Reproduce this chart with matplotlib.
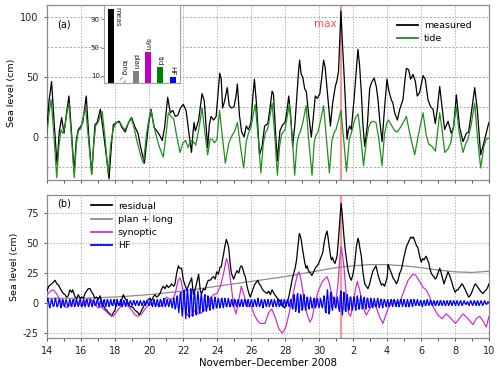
import numpy as np
import matplotlib
matplotlib.use("Agg")
import matplotlib.pyplot as plt
from matplotlib.ticker import FixedLocator
import datetime as dt

plt.rcParams['font.family'] = ['DejaVu Sans']
plt.rcParams['axes.unicode_minus'] = False

START = dt.date(2008, 11, 14)
N_DAYS = 26
MAX_DAY = 17.28

# ---------------- panel (a) data: time in days since 14 Nov 2008 ----------------
tide_t = [0.00,0.12,0.24,0.40,0.57,0.70,0.82,0.93,1.05,1.17,1.29,1.45,1.60,1.73,1.84,2.00,
          2.12,2.27,2.45,2.63,2.75,2.86,3.00,3.12,3.25,3.42,3.60,3.75,3.90,4.10,4.30,4.45,
          4.60,4.80,4.94,5.10,5.30,5.50,5.67,5.86,6.10,6.25,6.40,6.60,6.84,7.00,7.14,7.30,
          7.45,7.60,7.82,8.00,8.15,8.30,8.45,8.60,8.75,8.95,9.12,9.30,9.45,9.60,9.72,9.85,
          10.00,10.15,10.30,10.49,10.70,10.88,11.05,11.20,11.40,11.57,11.72,11.85,12.00,12.12,
          12.25,12.42,12.58,12.72,12.84,12.99,13.12,13.24,13.39,13.55,13.68,13.80,13.90,14.00,
          14.12,14.25,14.41,14.57,14.70,14.80,14.90,15.05,15.24,15.39,15.59,15.72,15.82,15.94,
          16.10,16.27,16.41,16.61,16.76,16.90,17.00,17.15,17.29,17.45,17.62,17.78,17.90,18.04,
          18.15,18.30,18.42,18.62,18.80,18.92,19.05,19.20,19.35,19.50,19.71,19.85,20.00,20.08,
          20.25,20.45,20.60,20.80,21.00,21.14,21.35,21.63,21.85,22.12,22.30,22.45,22.65,22.85,
          23.10,23.25,23.40,23.60,23.75,23.90,24.08,24.25,24.47,24.62,24.76,24.95,25.16,25.32,
          25.51,25.70,25.84,26.00]
tide_v = [2,20,31,3,-34,-8,6,3,8,20,28,-2,-34,-6,5,7,
          16,24,-4,-31,-6,9,12,17,21,-2,-31,-6,7,12,12,8,
          6,12,16,9,-4,-15,-22,3,23,12,2,-8,-17,2,20,17,
          15,3,-13,-5,-3,-9,-3,-4,-7,8,24,2,-15,-2,-2,-5,
          -2,22,2,-22,-5,1,5,12,-10,-26,-4,3,8,18,
          27,0,-30,-6,3,7,18,28,3,-32,-8,2,4,6,
          16,27,3,-32,-6,1,4,12,26,-2,-32,-4,1,4,
          14,26,3,-30,-3,4,6,14,22,-2,-29,-2,3,11,
          16,19,5,-24,-2,8,12,13,12,0,-24,2,12,14,
          10,5,4,8,13,17,2,-15,2,20,2,-6,-8,-12,
          20,5,-13,-10,-5,8,25,3,-13,-6,-2,10,28,0,
          -26,-8,-2,-1]

meas_t = [0.00,0.12,0.27,0.42,0.59,0.72,0.86,1.00,1.15,1.29,1.45,1.60,1.72,1.84,2.00,2.10,
          2.31,2.45,2.63,2.75,2.82,2.95,3.14,3.37,3.65,3.80,3.90,4.00,4.10,4.25,4.40,4.60,
          4.80,4.98,5.15,5.35,5.50,5.73,5.96,6.12,6.30,6.45,6.60,6.78,6.92,7.10,7.25,7.40,
          7.55,7.70,7.85,8.02,8.18,8.35,8.50,8.58,8.65,8.72,8.80,8.92,9.12,9.25,9.45,9.55,
          9.65,9.80,9.95,10.08,10.16,10.25,10.33,10.45,10.60,10.72,10.85,11.00,11.12,11.20,
          11.32,11.45,11.60,11.72,11.85,12.00,12.10,12.20,12.32,12.50,12.65,12.80,12.99,13.10,
          13.24,13.32,13.45,13.55,13.70,13.86,14.00,14.10,14.22,14.33,14.45,14.58,14.70,14.80,
          14.86,14.95,15.04,15.16,15.25,15.38,15.55,15.65,15.78,15.90,16.05,16.15,16.27,16.36,
          16.50,16.67,16.80,16.96,17.06,17.15,17.22,17.29,17.37,17.45,17.55,17.65,17.72,17.80,
          17.90,18.06,18.20,18.29,18.39,18.49,18.59,18.69,18.84,18.98,19.08,19.24,19.37,19.47,
          19.57,19.71,19.86,20.00,20.10,20.25,20.35,20.45,20.61,20.75,20.94,21.04,21.14,21.27,
          21.39,21.53,21.67,21.78,21.92,22.12,22.25,22.41,22.57,22.71,22.84,22.96,23.10,23.24,
          23.39,23.59,23.78,23.92,24.08,24.27,24.47,24.67,24.80,24.96,25.16,25.31,25.51,25.75,
          25.94,26.00]
meas_v = [8,30,46,12,-23,4,16,3,20,34,2,-30,-3,6,9,12,
          34,2,-31,-5,10,12,23,-2,-35,-5,10,11,12,13,8,4,
          12,16,9,3,-8,-22,9,23,8,5,2,-3,8,33,20,22,
          17,18,24,27,22,3,-13,2,12,5,8,14,36,30,-9,10,
          17,14,17,40,53,48,24,30,41,26,24,25,34,44,
          18,4,0,9,6,12,32,48,28,-15,-8,9,11,22,
          38,36,2,-20,5,10,12,20,34,18,-8,10,35,55,
          64,52,50,40,38,20,0,14,34,32,36,48,64,58,
          36,9,28,42,47,55,80,105,80,59,30,-2,5,9,
          6,31,56,73,59,37,9,-8,9,40,45,49,42,31,
          14,-4,25,48,39,31,28,20,14,23,31,45,57,56,
          48,52,46,34,37,51,48,31,25,23,11,23,42,25,
          6,13,3,8,35,8,-4,3,4,20,41,23,-15,-2,
          9,12]

# ---------------- panel (b) data ----------------
resid_t = [0.00,0.10,0.20,0.35,0.47,0.58,0.67,0.78,0.86,0.96,1.06,1.15,1.25,1.35,1.45,1.51,
           1.58,1.65,1.75,1.84,1.95,2.04,2.14,2.24,2.33,2.43,2.53,2.63,2.73,2.82,2.92,3.02,
           3.12,3.22,3.35,3.43,3.51,3.61,3.71,3.80,3.90,4.00,4.07,4.14,4.22,4.29,4.40,4.49,
           4.58,4.69,4.79,4.88,4.98,5.08,5.17,5.27,5.35,5.43,5.50,5.57,5.64,5.71,5.80,5.86,
           5.96,6.06,6.15,6.25,6.35,6.45,6.55,6.65,6.75,6.84,6.94,7.04,7.14,7.24,7.32,7.39,
           7.46,7.53,7.63,7.73,7.80,7.92,8.02,8.12,8.22,8.31,8.42,8.51,8.61,8.71,8.82,8.92,
           9.02,9.10,9.20,9.30,9.40,9.49,9.61,9.70,9.80,9.90,9.98,10.08,10.18,10.25,10.32,10.39,
           10.47,10.55,10.62,10.69,10.76,10.84,10.92,10.98,11.08,11.18,11.28,11.37,11.45,11.51,11.60,11.67,
           11.75,11.82,11.90,11.96,12.05,12.10,12.20,12.30,12.41,12.48,12.55,12.65,12.75,12.85,12.94,13.04,
           13.14,13.24,13.35,13.45,13.55,13.63,13.72,13.82,13.90,13.98,14.08,14.15,14.22,14.32,14.41,14.50,
           14.61,14.68,14.76,14.84,14.90,14.96,15.03,15.10,15.17,15.24,15.30,15.38,15.49,15.58,15.69,15.75,
           15.82,15.90,15.98,16.06,16.14,16.22,16.30,16.40,16.47,16.53,16.60,16.67,16.73,16.80,16.86,16.94,
           17.00,17.06,17.13,17.19,17.24,17.30,17.36,17.41,17.47,17.53,17.61,17.71,17.80,17.90,17.98,18.05,
           18.10,18.20,18.29,18.35,18.39,18.49,18.55,18.59,18.69,18.78,18.88,18.98,19.08,19.18,19.27,19.35,
           19.43,19.50,19.57,19.67,19.76,19.86,19.94,20.02,20.06,20.12,20.20,20.28,20.35,20.45,20.55,20.65,
           20.75,20.82,20.88,20.96,21.04,21.14,21.24,21.33,21.40,21.47,21.55,21.63,21.73,21.82,21.92,22.02,
           22.10,22.18,22.25,22.31,22.38,22.45,22.52,22.60,22.68,22.76,22.83,22.90,23.00,23.10,23.17,23.24,
           23.30,23.35,23.42,23.49,23.59,23.68,23.78,23.88,23.95,24.02,24.10,24.18,24.25,24.33,24.40,24.47,
           24.57,24.67,24.74,24.80,24.88,24.96,25.04,25.12,25.20,25.25,25.35,25.45,25.55,25.65,25.75,25.84,
           25.92,26.00]
resid_v = [10,14,15,17,19,16,15,12,10,8,7,5,6,11,9,11,
           8,5,4,7,4,5,4,8,10,12,12,9,7,4,5,3,
           6,1,-3,-5,-6,-8,-9,-11,-8,-6,-2,0,-1,-2,3,7,
           4,2,-1,-3,-3,-4,-6,-7,-8,-10,-8,-6,-4,-2,0,1,
           3,4,2,5,7,5,6,8,12,14,12,15,13,14,16,15,
           14,16,25,31,29,29,19,15,11,14,18,21,7,11,18,24,
           10,8,12,11,16,19,19,21,22,20,26,24,30,30,36,41,
           48,53,50,46,35,25,22,20,24,27,25,30,31,29,24,22,
           15,11,7,5,9,11,15,17,19,16,15,12,10,9,8,10,
           7,11,8,6,4,3,1,-2,-3,-4,0,2,5,12,19,24,
           30,36,47,58,56,52,45,39,33,29,31,27,25,23,26,28,
           30,31,33,36,39,42,50,57,60,55,47,40,36,38,35,33,
           36,39,50,62,72,83,75,66,55,46,37,27,22,19,23,28,
           33,47,54,51,47,39,31,25,16,14,12,16,22,27,29,31,
           26,22,19,15,16,14,18,22,32,30,27,24,21,19,16,19,
           25,27,30,36,41,47,50,53,55,54,55,52,48,46,39,34,
           37,36,38,39,36,34,29,25,23,22,20,21,25,29,26,22,
           19,16,19,22,26,23,19,14,11,9,11,11,13,14,16,15,
           12,9,7,5,6,8,11,14,16,15,13,11,9,8,10,11,
           13,16]

syn_t = [0.00,0.20,0.37,0.55,0.75,0.96,1.16,1.40,1.65,1.85,2.04,2.20,2.33,2.53,2.75,3.00,
         3.20,3.41,3.70,3.90,4.10,4.39,4.59,4.88,5.18,5.37,5.57,5.76,5.96,6.25,6.45,6.65,
         6.85,7.04,7.25,7.43,7.55,7.63,7.72,7.82,7.90,7.96,8.05,8.22,8.35,8.50,8.70,8.92,
         9.10,9.41,9.61,9.80,10.00,10.20,10.39,10.55,10.62,10.69,10.84,10.98,11.12,11.25,11.43,11.60,
         11.80,12.00,12.20,12.40,12.55,12.82,13.04,13.22,13.43,13.65,13.85,14.05,14.25,14.41,14.60,14.76,
         14.84,14.96,15.10,15.29,15.47,15.60,15.80,15.98,16.20,16.47,16.60,16.75,16.90,17.00,17.12,17.22,
         17.31,17.40,17.47,17.61,17.75,17.86,18.00,18.14,18.25,18.39,18.59,18.78,18.98,19.18,19.35,19.55,
         19.76,19.95,20.16,20.35,20.55,20.75,21.00,21.24,21.53,21.70,21.92,22.12,22.31,22.51,22.71,23.00,
         23.24,23.49,23.78,24.02,24.25,24.47,24.70,25.06,25.25,25.45,25.65,25.84,26.00]
syn_v = [7,10,11,8,3,-2,-4,-1,3,0,-3,0,3,4,0,-4,
         -3,-6,-10,-11,-7,-2,0,-4,-10,-11,-9,-5,-2,0,-1,-3,
         1,5,3,4,8,14,19,21,18,13,3,-9,-11,-10,-6,-9,
         -8,-4,4,7,8,14,25,37,35,30,14,-2,-9,0,14,6,
         -3,-2,-10,-15,-17,-17,-8,-5,-12,-22,-25,-20,-8,3,16,25,
         26,18,5,-9,-16,-12,2,11,18,22,17,7,-1,3,16,37,
         47,38,30,5,-9,-11,0,11,18,11,-3,-10,-5,0,-3,-11,
         -17,-9,0,2,-1,1,10,19,24,23,18,13,11,5,-3,-10,
         -13,-9,-13,-17,-13,-9,-12,-18,-13,-11,-15,-20,-11]

plan_t = list(range(0, 27))
plan_v = [4,4,4,4.5,5,6,7,8.5,10,12,14,16,18,20,22,24.5,27,29.5,31,32,32,31,29.5,27.5,26,25.5,26.5]

# HF component, hourly values, one row per day
hf_rows = [
 [1,4,2,-2,-4,-1,3,3,-1,-3,-2,2,4,1,-3,-3,0,3,2,-2,-4,0,3,2],
 [-2,-3,1,3,1,-2,-3,0,3,2,-2,-3,1,3,0,-3,-2,2,3,-1,-3,-1,2,3],
 [0,-3,-2,2,3,-1,-3,0,3,2,-2,-3,0,3,1,-2,-3,1,3,1,-2,-2,1,3],
 [1,-2,-3,1,3,0,-3,-1,2,3,-1,-3,0,3,2,-2,-3,1,3,0,-2,-2,2,3],
 [-1,-3,0,3,1,-2,-2,1,3,0,-3,-1,2,2,-1,-3,0,3,1,-2,-2,1,2,0],
 [-2,-1,2,2,-1,-2,0,2,1,-2,-2,1,2,0,-2,-1,1,2,0,-2,-1,2,2,-1],
 [-2,0,3,1,-2,-3,1,3,0,-3,-2,2,3,-1,-3,0,3,2,-2,-3,1,4,0,-3],
 [-2,2,3,-1,-3,0,3,2,-2,-4,1,4,0,-5,-3,4,6,-2,-8,-2,8,9,-4,-11],
 [-3,10,11,-4,-13,-2,12,8,-7,-12,1,12,6,-9,-11,2,11,5,-9,-10,3,10,3,-8],
 [-8,3,9,1,-7,-6,4,7,-2,-7,-2,6,5,-3,-6,0,5,3,-4,-5,1,5,2,-4],
 [-4,2,4,0,-4,-2,3,4,-1,-4,0,4,2,-3,-3,1,4,1,-3,-3,2,3,-1,-3],
 [-1,3,2,-2,-3,1,3,0,-3,-2,2,3,-1,-3,0,3,2,-2,-3,1,3,0,-3,-1],
 [2,3,-1,-3,0,3,2,-2,-3,1,4,0,-3,-2,2,3,-1,-4,0,3,2,-2,-3,1],
 [3,0,-3,-1,2,3,-1,-3,0,3,1,-2,-3,1,3,0,-3,-2,2,3,-1,-3,0,3],
 [1,-3,-2,2,3,-1,-3,0,3,2,-4,-5,3,7,0,-7,-4,6,8,-3,-8,-1,7,5],
 [-6,-5,4,7,-1,-6,-2,5,4,-3,-5,1,5,2,-4,-4,2,4,0,-4,-2,3,4,-1],
 [-4,-1,4,2,-3,-4,1,6,3,-7,-8,5,11,2,-9,-7,6,9,-3,-6,0,5,2,-4],
 [-4,2,5,0,-5,-7,6,10,-3,-10,-4,9,8,-6,-7,3,7,0,-6,-3,5,5,-2,-6],
 [-2,5,5,-3,-6,0,6,3,-5,-5,2,6,1,-5,-4,3,5,-1,-5,-2,4,4,-2,-4],
 [-1,4,3,-3,-4,1,4,1,-3,-3,2,4,0,-4,-2,3,3,-1,-4,0,3,2,-2,-3],
 [1,3,0,-3,-2,2,3,-1,-3,0,3,2,-2,-3,1,3,0,-3,-1,2,3,-1,-3,0],
 [3,1,-2,-3,1,3,0,-3,-1,2,3,-1,-3,0,3,2,-2,-2,1,3,0,-2,-2,2],
 [2,-1,-3,0,2,2,-2,-2,1,3,0,-2,-1,2,2,-1,-2,0,2,1,-2,-2,1,2],
 [0,-2,-1,2,2,-1,-2,0,2,1,-2,-2,1,2,0,-2,-1,2,2,-1,-2,0,2,1],
 [-1,-2,1,2,0,-2,-1,1,2,0,-2,-1,1,2,0,-1,-1,1,1,-1,-2,0,2,1],
 [-1,-2,0,2,1,-1,-2,1,2,0,-2,-1,1,2,0,-2,-1,1,2,0,-1,-1,1,1],
]
hf_end = [0]

# inset bar chart (cm)
bar_labels = ['meas', 'long', 'plan', 'syn', 'tid', 'HF']
bar_values = [104.5, 9, 17.5, 44, 22.5, 8.5]
bar_colors = ['black', '#c8c8c8', '#808080', '#c000c0', '#008000', '#0000ff']

# ---------------- styling ----------------
C_TIDE = '#1f8f1f'
C_SYN = '#d030d0'
C_HF = '#0000ff'
C_PLAN = '#8c8c8c'
C_MAX = '#f59a9a'
SPINE = '#8a8a8a'

fig = plt.figure(figsize=(5.0, 3.75), dpi=100)
ax1 = fig.add_axes([0.094, 0.52, 0.884, 0.467])
ax2 = fig.add_axes([0.094, 0.099, 0.884, 0.381])

hf_vals = [v for row in hf_rows for v in row] + hf_end
hf_t = np.arange(len(hf_vals)) / 24.0

# panel a
ax1.axvline(MAX_DAY, color=C_MAX, lw=1.6, zorder=1)
ax1.plot(meas_t, meas_v, color='black', lw=0.9, label='measured', zorder=3)
ax1.plot(tide_t, tide_v, color=C_TIDE, lw=0.9, label='tide', zorder=4)
ax1.set_ylim(-36, 110)
ax1.set_yticks([0, 50, 100])
ax1.yaxis.set_minor_locator(FixedLocator([-25, 25, 75]))
ax1.text(MAX_DAY - 0.25, 94, 'max', color='#ff3030', alpha=0.85, fontsize=7.5,
         ha='right', va='center')
ax1.text(0.022, 0.89, '(a)', transform=ax1.transAxes, fontsize=7, va='center')
leg1 = ax1.legend(loc='upper right', bbox_to_anchor=(0.975, 0.945), frameon=False,
                  fontsize=6.8, handlelength=2.2, handletextpad=0.6, borderaxespad=0.3,
                  labelspacing=0.45)

# panel b
ax2.axvline(MAX_DAY, color=C_MAX, lw=1.6, zorder=1)
ax2.plot(resid_t, resid_v, color='black', lw=0.9, label='residual', zorder=3)
ax2.plot(plan_t, plan_v, color=C_PLAN, lw=0.9, label='plan + long', zorder=2)
ax2.plot(syn_t, syn_v, color=C_SYN, lw=0.9, label='synoptic', zorder=4)
ax2.plot(hf_t, hf_vals, color=C_HF, lw=0.9, label='HF', zorder=5)
ax2.set_ylim(-29, 90)
ax2.set_yticks([-25, 0, 25, 50, 75])
ax2.text(0.022, 0.94, '(b)', transform=ax2.transAxes, fontsize=7, va='center')
leg2 = ax2.legend(loc='upper left', bbox_to_anchor=(0.085, 1.0), frameon=False,
                  fontsize=6.8, handlelength=2.2, handletextpad=0.6, borderaxespad=0.3,
                  labelspacing=0.45)
for h in leg1.get_lines() + leg2.get_lines():
    h.set_linewidth(1.3)

xt = list(range(0, N_DAYS + 1, 2))
xlabels = [str((START + dt.timedelta(days=k)).day) for k in xt]
for ax in (ax1, ax2):
    ax.set_xlim(0, N_DAYS)
    ax.set_xticks(xt)
    ax.xaxis.set_minor_locator(FixedLocator(list(range(0, N_DAYS + 1))))
    ax.grid(True, which='major', axis='x', color='#b4b4b4', linestyle=(0, (1.5, 1.5)), lw=0.7)
    for sp in ax.spines.values():
        sp.set_color(SPINE)
        sp.set_linewidth(0.9)
    ax.tick_params(axis='both', which='both', colors='#555555', labelcolor='#222222',
                   labelsize=7, length=2.5, width=0.7)
    ax.set_ylabel('Sea level (cm)', fontsize=6.8, labelpad=3)
    ax.set_axisbelow(True)

ax1.grid(True, which='both', axis='y', color='#9a9a9a', linestyle=(0, (2.5, 2)), lw=0.6)
ax1.tick_params(axis='y', which='minor', length=0)
ax1.set_xticklabels([])
ax2.grid(True, which='major', axis='y', color='#b4b4b4', linestyle=(0, (1.5, 1.5)), lw=0.7)
ax2.set_xticklabels(xlabels)
ax2.set_xlabel('November\u2013December 2008', fontsize=7.3, labelpad=1)

# inset bar chart
axi = fig.add_axes([0.208, 0.7787, 0.152, 0.208])
xpos = np.arange(len(bar_labels))
bars = axi.bar(xpos, bar_values, width=0.5, color=bar_colors)
bars[1].set_facecolor('white')
bars[1].set_hatch('/////')
bars[1].set_edgecolor('#b0b0b0')
bars[1].set_linewidth(0)
for x, v, lab in zip(xpos, bar_values, bar_labels):
    if v > 90:
        axi.text(x + 0.5, 107, lab, rotation=270, fontsize=5.2, ha='center', va='top',
                 color='#222222')
    else:
        axi.text(x, v + 2, lab, rotation=270, fontsize=5.2, ha='center', va='bottom',
                 color='#222222')
axi.set_xlim(-0.56, 5.6)
axi.set_ylim(0, 110)
axi.set_yticks([10, 50, 90])
axi.set_xticks([])
axi.tick_params(axis='y', labelsize=5, length=2, width=0.5, pad=1, colors='#555555',
                labelcolor='#222222')
for sp in axi.spines.values():
    sp.set_color('#a0a0a0')
    sp.set_linewidth(0.8)

fig.savefig('out.png', dpi=100)
